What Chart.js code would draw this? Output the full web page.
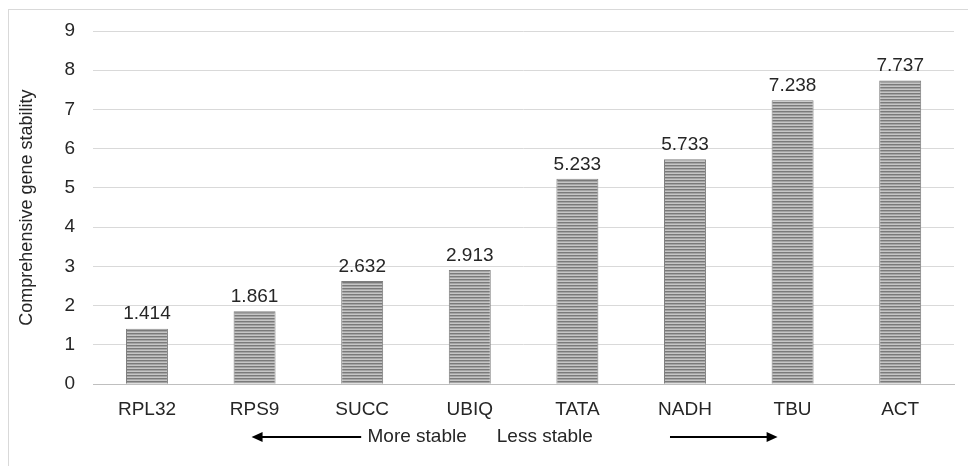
<!DOCTYPE html>
<html>
<head>
<meta charset="utf-8">
<script src="https://cdn.jsdelivr.net/npm/chart.js@4/dist/chart.umd.min.js"></script>
<style>
  html, body { margin: 0; padding: 0; background: #fff; }
  #wrap { width: 968px; height: 466px; position: relative; }
</style>
</head>
<body>
<div id="wrap"><canvas id="c" width="968" height="466"></canvas></div>
<script>
// Genes ordered from most to least stable
const genes = ['RPL32', 'RPS9', 'SUCC', 'UBIQ', 'TATA', 'NADH', 'TBU', 'ACT'];
// Comprehensive stability ranking values
const stability = [1.414, 1.861, 2.632, 2.913, 5.233, 5.733, 7.238, 7.737];
const yTicks = [0, 1, 2, 3, 4, 5, 6, 7, 8, 9];

const FONT = 'Liberation Sans, Arial, sans-serif';
const TEXT = '#262626';

// Horizontal stripe fill for the bars
function stripePattern(ctx) {
  const p = document.createElement('canvas');
  p.width = 4; p.height = 3;
  const g = p.getContext('2d');
  g.fillStyle = '#c6c6c6'; g.fillRect(0, 0, 4, 3);
  g.fillStyle = '#7a7a7a'; g.fillRect(0, 0, 4, 1);
  g.fillStyle = '#a4a4a4'; g.fillRect(0, 1, 4, 1);
  return ctx.createPattern(p, 'repeat');
}

const ctx = document.getElementById('c').getContext('2d');

// Frame around the whole figure
const framePlugin = {
  id: 'frame',
  beforeDraw(chart) {
    const c = chart.ctx;
    c.save();
    c.fillStyle = '#fff';
    c.fillRect(0, 0, chart.width, chart.height);
    c.strokeStyle = '#d9d9d9';
    c.lineWidth = 1;
    c.strokeRect(8.5, 9.5, chart.width + 10, chart.height + 10);
    c.restore();
  }
};

// Value labels above bars
const valueLabels = {
  id: 'valueLabels',
  afterDatasetsDraw(chart) {
    const c = chart.ctx;
    const meta = chart.getDatasetMeta(0);
    c.save();
    c.font = '19px ' + FONT;
    c.fillStyle = TEXT;
    c.textAlign = 'center';
    c.textBaseline = 'bottom';
    meta.data.forEach((bar, i) => {
      c.fillText(stability[i].toFixed(3), bar.x, bar.y - 5);
    });
    c.restore();
  }
};

// Stability direction note under the category axis
const directionNote = {
  id: 'directionNote',
  afterDraw(chart) {
    const c = chart.ctx;
    const x = chart.scales.x;
    const y = 437;
    c.save();
    c.font = '19px ' + FONT;
    c.fillStyle = TEXT;
    c.textBaseline = 'middle';
    c.textAlign = 'right';
    c.fillText('More stable', x.getPixelForValue(3) - 3, y);
    c.textAlign = 'left';
    c.fillText('Less stable', x.getPixelForValue(3) + 27, y);

    function arrow(x0, x1) {
      c.strokeStyle = '#000';
      c.fillStyle = '#000';
      c.lineWidth = 2;
      const dir = Math.sign(x1 - x0);
      c.beginPath();
      c.moveTo(x0, y);
      c.lineTo(x1 - dir * 8, y);
      c.stroke();
      c.beginPath();
      c.moveTo(x1, y);
      c.lineTo(x1 - dir * 11, y - 5);
      c.lineTo(x1 - dir * 11, y + 5);
      c.closePath();
      c.fill();
    }
    arrow(x.getPixelForValue(2) - 1, x.getPixelForValue(1) - 3);
    arrow(x.getPixelForValue(5) - 15, x.getPixelForValue(6) - 15);
    c.restore();
  }
};

new Chart(ctx, {
  type: 'bar',
  data: {
    labels: genes,
    datasets: [{
      data: stability,
      backgroundColor: stripePattern(ctx),
      borderColor: '#7f7f7f',
      borderWidth: 1,
      categoryPercentage: 1,
      barPercentage: 0.39
    }]
  },
  options: {
    responsive: false,
    animation: false,
    layout: { padding: { top: 31, right: 14, bottom: 31, left: 12 } },
    plugins: { legend: { display: false }, tooltip: { enabled: false } },
    scales: {
      x: {
        grid: { display: false, drawTicks: false },
        border: { color: '#bfbfbf', width: 1 },
        ticks: { color: TEXT, font: { family: FONT, size: 19 }, padding: 14 }
      },
      y: {
        min: 0, max: 9,
        afterBuildTicks(axis) { axis.ticks = yTicks.map(v => ({ value: v })); },
        grid: { color: '#d9d9d9', drawTicks: false },
        border: { display: false },
        ticks: { color: TEXT, font: { family: FONT, size: 19 }, padding: 18 },
        title: {
          display: true,
          text: 'Comprehensive gene stability',
          color: TEXT,
          font: { family: FONT, size: 18 },
          padding: { bottom: 9 }
        }
      }
    }
  },
  plugins: [framePlugin, valueLabels, directionNote]
});
</script>
</body>
</html>
